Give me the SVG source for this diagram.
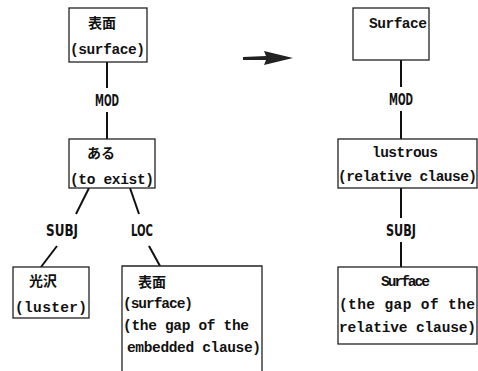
<svg xmlns="http://www.w3.org/2000/svg" width="478" height="371" viewBox="0 0 478 371">
<style>
.box{fill:#fff;stroke:#222;stroke-width:1.3}
.t{font-family:"Liberation Mono","Noto Sans CJK JP",monospace;font-size:14.5px;fill:#111;font-weight:bold}
.j{font-family:"Noto Sans CJK JP",sans-serif;font-size:14px;fill:#111;font-weight:bold}
.l{font-family:"DejaVu Sans Condensed","DejaVu Sans",sans-serif;font-size:15px;font-weight:bold;fill:#111}
.c{stroke:#111;stroke-width:2;fill:none}
</style>
<rect width="478" height="371" fill="#fff"/>
<g id="connectors">
<line class="c" x1="107" y1="62" x2="107" y2="88"/>
<line class="c" x1="107" y1="112" x2="107" y2="139"/>
<line class="c" x1="89" y1="188" x2="76" y2="214"/>
<line class="c" x1="57" y1="246" x2="41" y2="267"/>
<line class="c" x1="130" y1="188" x2="139" y2="214"/>
<line class="c" x1="149" y1="246" x2="160" y2="266"/>
<line class="c" x1="401" y1="60" x2="401" y2="87"/>
<line class="c" x1="401" y1="111" x2="401" y2="139"/>
<line class="c" x1="401" y1="188" x2="401" y2="218"/>
<line class="c" x1="401" y1="242" x2="401" y2="267"/>
<text class="l" x="95" y="106" textLength="24" lengthAdjust="spacingAndGlyphs">MOD</text>
<text class="l" x="46" y="236" textLength="32" lengthAdjust="spacingAndGlyphs">SUBJ</text>
<text class="l" x="131" y="236" textLength="22" lengthAdjust="spacingAndGlyphs">LOC</text>
<text class="l" x="389" y="105" textLength="24" lengthAdjust="spacingAndGlyphs">MOD</text>
<text class="l" x="386" y="236" textLength="30" lengthAdjust="spacingAndGlyphs">SUBJ</text>
</g>
<g id="arrow">
<path d="M243,57 L266,56 L264,51 L293,58 L264,65 L266,60 L243,60 Z" fill="#222"/>
</g>
<g id="n1">
<rect class="box" x="69" y="8" width="78" height="54"/>
<text class="j" x="102" y="28" text-anchor="middle">表面</text>
<text class="t" x="70" y="54" textLength="75">(surface)</text>
</g>
<g id="n2">
<rect class="box" x="69" y="139" width="86" height="49"/>
<text class="j" x="101" y="158" text-anchor="middle">ある</text>
<text class="t" x="70" y="184" textLength="84">(to exist)</text>
</g>
<g id="n3">
<rect class="box" x="13" y="267" width="76" height="51"/>
<text class="j" x="43" y="286" text-anchor="middle">光沢</text>
<text class="t" x="15" y="312" textLength="72">(luster)</text>
</g>
<g id="n4">
<path class="box" d="M122,372 V266 H262 V372"/>
<text class="j" x="152" y="287" text-anchor="middle">表面</text>
<text class="t" x="123" y="308" textLength="70">(surface)</text>
<text class="t" x="123" y="330" textLength="126">(the gap of the</text>
<text class="t" x="127" y="352" textLength="134">embedded clause)</text>
</g>
<g id="n5">
<rect class="box" x="353" y="8" width="76" height="52"/>
<text class="t" x="369" y="28" textLength="58">Surface</text>
</g>
<g id="n6">
<rect class="box" x="338" y="139" width="139" height="49"/>
<text class="t" x="372" y="157" textLength="66">lustrous</text>
<text class="t" x="338" y="181" textLength="139">(relative clause)</text>
</g>
<g id="n7">
<rect class="box" x="338" y="267" width="139" height="77"/>
<text class="t" x="381" y="286" textLength="49">Surface</text>
<text class="t" x="339" y="309" textLength="136">(the gap of the</text>
<text class="t" x="339" y="332" textLength="137">relative clause)</text>
</g>
</svg>
